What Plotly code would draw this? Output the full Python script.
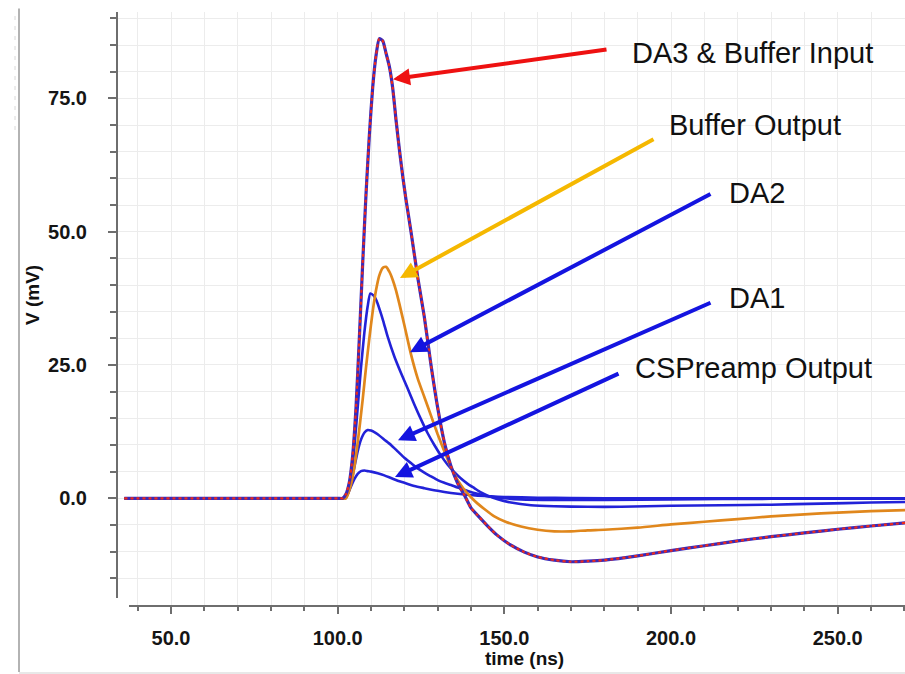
import plotly.graph_objects as go

# ---------------- data ----------------
t_da3 = [36, 60, 80, 95, 100, 101.5, 102.5, 103.5, 104.5, 105.5, 106.5, 107.5, 108.5, 109.5,
         110.5, 111.5, 112.5, 113.5, 114.5, 115.5, 116.5, 117.5, 118.5, 119.5, 120.5, 122,
         124, 126, 128, 130, 132, 134, 136, 138, 140, 142, 145, 148, 152, 156, 160, 165,
         170, 175, 180, 190, 200, 210, 220, 230, 240, 250, 260, 270.5]
v_da3 = [0, 0, 0, 0, 0, 0, 0.8, 3, 8, 17, 30, 44, 57, 68,
         77, 83, 86.2, 85.8, 83.5, 81, 77, 71, 65.5, 60.5, 56, 50,
         41.5, 34, 25, 17, 10.5, 6, 2.8, 0.6, -1.8, -3.2, -5.2, -7, -8.8, -10.1, -11, -11.6,
         -11.9, -11.8, -11.6, -10.8, -9.8, -8.9, -8.0, -7.2, -6.5, -5.8, -5.2, -4.6]

t_buf = [36, 60, 80, 95, 100, 102.5, 103.5, 104.5, 105.5, 106.5, 107.5, 108.5, 109.5, 110.5,
         111.5, 112.5, 113.5, 114.5, 115.5, 116.5, 117.5, 118.5, 120, 122, 124, 126, 128,
         130, 132, 134, 136, 138, 140, 142, 144, 147, 150, 155, 160, 165, 170, 175, 180,
         190, 200, 210, 220, 230, 240, 250, 260, 270.5]
v_buf = [0, 0, 0, 0, 0, 0, 1.5, 4, 8, 13, 18.5, 24.5, 30, 35,
         39, 41.8, 43.2, 43.4, 42.5, 41, 39, 36.5, 32.5, 27, 22.5, 19, 15.5,
         12, 8.8, 5.8, 3.4, 1.6, 0.2, -1, -2, -3.4, -4.3, -5.3, -5.9, -6.2, -6.2, -6.0, -5.9,
         -5.5, -4.9, -4.4, -3.9, -3.4, -3.0, -2.7, -2.4, -2.2]

t_da2 = [36, 60, 80, 95, 100, 102, 103, 104, 105, 106, 107, 108, 109, 109.8, 110.8, 111.7,
         112.7, 113.7, 115, 117, 119, 121, 123, 125, 127, 129, 131, 133, 135, 137, 139, 141,
         143, 145, 148, 152, 158, 165, 175, 185, 200, 215, 230, 245, 260, 270.5]
v_da2 = [0, 0, 0, 0, 0, 0, 1, 4, 9.5, 17, 24.5, 31, 36, 38.4, 38, 37,
         35.2, 33.2, 30.3, 26.6, 23.5, 20.6, 17.6, 14.8, 12.2, 10, 8, 6.3, 4.9, 3.7, 2.7, 1.9,
         1.1, 0.5, -0.2, -0.8, -1.3, -1.5, -1.6, -1.6, -1.4, -1.3, -1.2, -1.0, -0.8, -0.7]

t_da1 = [36, 60, 80, 95, 100, 102, 103, 104, 105, 106, 107, 108, 109, 110, 111, 112, 114,
         116, 118, 120, 122, 124, 126, 128, 130, 132, 134, 136, 138, 141, 145, 150, 155,
         165, 180, 200, 230, 270.5]
v_da1 = [0, 0, 0, 0, 0, 0, 0.8, 2.8, 5.8, 8.8, 11, 12.3, 12.8, 12.7, 12.4, 12.0, 11.0,
         10.0, 8.8, 7.6, 6.6, 5.6, 4.8, 4.1, 3.4, 2.9, 2.5, 2.0, 1.6, 1.0, 0.4, 0.0, -0.2,
         -0.3, -0.3, -0.2, -0.1, -0.1]

t_csp = [36, 60, 80, 95, 100, 102, 103, 104, 105, 106, 107, 108, 109, 110, 112, 114, 116,
         118, 120, 123, 126, 130, 134, 138, 142, 146, 150, 160, 170, 190, 230, 270.5]
v_csp = [0, 0, 0, 0, 0, 0, 0.8, 2.2, 3.6, 4.6, 5.1, 5.2, 5.1, 5.0, 4.7, 4.3, 3.8,
         3.3, 2.9, 2.3, 1.9, 1.4, 1.0, 0.7, 0.5, 0.35, 0.25, 0.1, 0.05, 0, 0, 0]

labels = ["DA3 & Buffer Input", "Buffer Output", "DA2", "DA1", "CSPreamp Output"]
# label anchor (time ns, mV) and arrow tail / head (time ns, mV)
label_pos = [(187.7, 83.5), (198.8, 70.0), (216.8, 57.2), (216.8, 37.6), (188.6, 24.5)]
arrow_tail = [(181.1, 84.2), (195.2, 67.5), (212.3, 57.2), (212.3, 36.8), (184.7, 23.5)]
arrow_head = [(116.6, 78.6), (118.7, 41.3), (121.7, 27.4), (118.1, 10.9), (117.2, 4.0)]
arrow_col = ["#ee1111", "#f5b800", "#1414e0", "#1414e0", "#1414e0"]

x_ticks = [50, 100, 150, 200, 250]
y_ticks = [0, 25, 50, 75]

BLUE = "#2222d8"
ORANGE = "#e0871c"
RED = "#ee2a1a"

fig = go.Figure()
for t, v in [(t_csp, v_csp), (t_da1, v_da1), (t_da2, v_da2)]:
    fig.add_trace(go.Scatter(x=t, y=v, mode="lines", line=dict(color=BLUE, width=2.6),
                             line_shape="spline", line_smoothing=0.6, showlegend=False))
fig.add_trace(go.Scatter(x=t_buf, y=v_buf, mode="lines", line=dict(color=ORANGE, width=2.7),
                         line_shape="spline", line_smoothing=0.6, showlegend=False))
fig.add_trace(go.Scatter(x=t_da3, y=v_da3, mode="lines", line=dict(color="#3a2ab8", width=3.2),
                         line_shape="spline", line_smoothing=0.6, showlegend=False))
fig.add_trace(go.Scatter(x=t_da3, y=v_da3, mode="lines",
                         line=dict(color=RED, width=2.2, dash="3px,3px"),
                         line_shape="spline", line_smoothing=0.6, showlegend=False))

ann = []
for lab, (lx, ly) in zip(labels, label_pos):
    ann.append(dict(x=lx, y=ly, xref="x", yref="y", text=lab, showarrow=False,
                    xanchor="left", yanchor="middle",
                    font=dict(family="Liberation Sans, Arial", size=29, color="#111111")))
for (tx, ty), (hx, hy), c in zip(arrow_tail, arrow_head, arrow_col):
    ann.append(dict(x=hx, y=hy, xref="x", yref="y", ax=tx, ay=ty, axref="x", ayref="y",
                    text="", showarrow=True, arrowhead=2, arrowsize=0.85, arrowwidth=4,
                    arrowcolor=c, standoff=0))
# axis titles
ann.append(dict(x=(524 - 117) / 788, y=0, xref="paper", yref="paper", yshift=-52,
                text="<b>time (ns)</b>", showarrow=False, xanchor="center", yanchor="middle",
                font=dict(family="Liberation Sans, Arial", size=19, color="#111111")))
ann.append(dict(x=0, y=0.5, xref="paper", yref="paper", xshift=-85, yshift=14,
                text="<b>V (mV)</b>", showarrow=False, textangle=-90,
                xanchor="center", yanchor="middle",
                font=dict(family="Liberation Sans, Arial", size=19, color="#111111")))

shapes = [
    # y axis line
    dict(type="line", xref="paper", yref="y", x0=0, x1=0, y0=-18.7, y1=91.2,
         line=dict(color="#6e6e6e", width=2)),
    # x axis line
    dict(type="line", xref="x", yref="paper", x0=37.4, x1=271, y0=0, y1=0,
         line=dict(color="#6e6e6e", width=2)),
    # window frame on the left and bottom
    dict(type="line", xref="paper", yref="paper", x0=-98 / 788, x1=-98 / 788,
         y0=-66 / 594, y1=1.006, line=dict(color="#9a9a9a", width=1.5)),
    dict(type="line", xref="paper", yref="paper", x0=-102 / 788, x1=-102 / 788,
         y0=(606 - 130) / 594, y1=(606 - 15) / 594,
         line=dict(color="#d8d8d8", width=1, dash="4px,6px")),
    dict(type="rect", xref="paper", yref="paper", x0=-98 / 788, x1=1, y0=-68 / 594,
         y1=-66 / 594, line=dict(width=0), fillcolor="#e8e8e8"),
]

tickfont = dict(family="Liberation Sans, Arial", size=20, color="#151515", weight="bold")
fig.update_layout(
    width=905, height=674, autosize=False,
    margin=dict(l=117, r=0, t=12, b=68),
    paper_bgcolor="white", plot_bgcolor="white",
    annotations=ann, shapes=shapes,
    xaxis=dict(range=[33.8, 270.2], tickvals=x_ticks, ticktext=[f"{v:.1f}" for v in x_ticks],
               ticks="outside", ticklen=7, tickwidth=1.5, tickcolor="#6e6e6e",
               showline=False, zeroline=False, showgrid=True, gridcolor="#ececec",
               tickfont=tickfont, ticklabelstandoff=7,
               minor=dict(dtick=10, tick0=0, ticks="outside", ticklen=4, tickcolor="#6e6e6e",
                          showgrid=True, gridcolor="#ececec")),
    yaxis=dict(range=[-20.2, 91.2], tickvals=y_ticks, ticktext=[f"{v:.1f}" for v in y_ticks],
               ticks="outside", ticklen=8, tickwidth=1.5, tickcolor="#6e6e6e",
               showline=False, zeroline=False, showgrid=True, gridcolor="#ececec",
               tickfont=tickfont, ticklabelstandoff=17,
               minor=dict(tickvals=list(range(-15, 95, 5)), ticks="outside", ticklen=6,
                          tickcolor="#6e6e6e", showgrid=True, gridcolor="#ececec")),
)

fig.write_html("out.html")
